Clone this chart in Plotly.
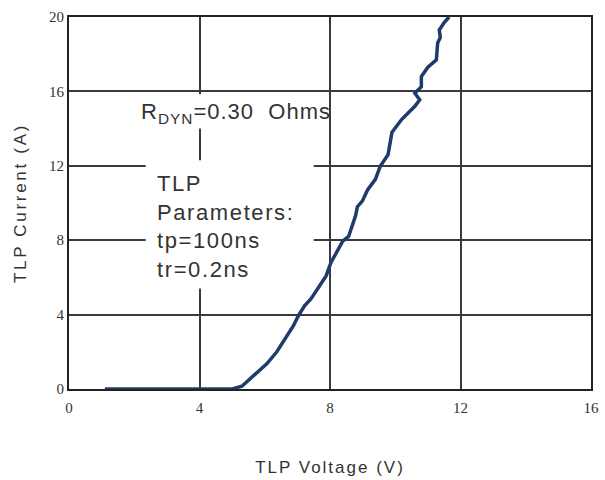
import plotly.graph_objects as go

# TLP I-V curve
voltage = [1.1, 3.0, 4.5, 5.0, 5.3, 5.56, 5.8, 6.07, 6.37, 6.67, 6.88, 7.03, 7.22, 7.42, 7.6,
           7.88, 8.03, 8.2, 8.39, 8.57, 8.78, 8.84, 8.99, 9.15, 9.39, 9.54, 9.78, 9.9,
           10.2, 10.6, 10.75, 10.6, 10.8, 10.8, 11.0, 11.26, 11.3, 11.38, 11.35, 11.5, 11.65]
current = [0.0, 0.0, 0.0, 0.0, 0.15, 0.56, 0.95, 1.37, 2.0, 2.87, 3.4, 3.94, 4.47, 4.85, 5.3,
           6.08, 6.8, 7.3, 7.95, 8.2, 9.3, 9.8, 10.1, 10.7, 11.27, 11.97, 12.6, 13.8,
           14.5, 15.2, 15.55, 15.9, 16.25, 16.8, 17.3, 17.7, 18.6, 18.9, 19.3, 19.7, 20.0]

x_ticks = [0, 4, 8, 12, 16]
y_ticks = [0, 4, 8, 12, 16, 20]


def spaced(t, px):
    return f'<span style="letter-spacing:{px}px">{t}</span>'


fig = go.Figure()
fig.add_trace(go.Scatter(x=voltage, y=current, mode="lines",
                         line=dict(color="#1f3b6b", width=3.5), showlegend=False))

grid = "#3a3a3a"
tickfont = dict(family="Liberation Serif", size=15, color="#333333")
titlefont = dict(family="Liberation Sans", size=17, color="#333333")
fig.update_xaxes(range=[0, 16], tickvals=x_ticks, ticks="", showgrid=True, gridcolor=grid,
                 gridwidth=2, zeroline=False, showline=True, linecolor="#222222", linewidth=2,
                 mirror=True, tickfont=tickfont, ticklabelstandoff=4,
                 title=dict(text=spaced("TLP Voltage (V)", 2), font=titlefont, standoff=46))
fig.update_yaxes(range=[0, 20], tickvals=y_ticks, ticks="", showgrid=True, gridcolor=grid,
                 gridwidth=2, zeroline=False, showline=True, linecolor="#222222", linewidth=2,
                 mirror=True, tickfont=tickfont,
                 title=dict(text=spaced("TLP Current (A)", 2.7), font=titlefont, standoff=18))

# white boxes hiding grid behind the text
fig.add_shape(type="rect", xref="x", yref="y", x0=2.15, x1=7.95, y0=14.0, y1=15.85,
              fillcolor="white", line=dict(width=0), layer="between")
fig.add_shape(type="rect", xref="x", yref="y", x0=2.35, x1=7.5, y0=5.4, y1=12.3,
              fillcolor="white", line=dict(width=0), layer="between")

txtfont = dict(family="Liberation Sans", size=22, color="#333333")
fig.add_annotation(x=2.15, y=14.85, xref="x", yref="y", xanchor="left", yanchor="middle",
                   text=spaced("R<sub>DYN</sub>=0.30&nbsp; Ohms", 1), showarrow=False, font=txtfont)
fig.add_annotation(x=2.65, y=8.75, xref="x", yref="y", xanchor="left", yanchor="middle",
                   align="left",
                   text=spaced("TLP<br>Parameters:<br>tp=100ns<br>tr=0.2ns", 1.6),
                   showarrow=False, font=txtfont)

fig.update_layout(width=605, height=480, margin=dict(l=69, r=6, t=17, b=90),
                  plot_bgcolor="white", paper_bgcolor="white")
fig.write_html("out.html")
